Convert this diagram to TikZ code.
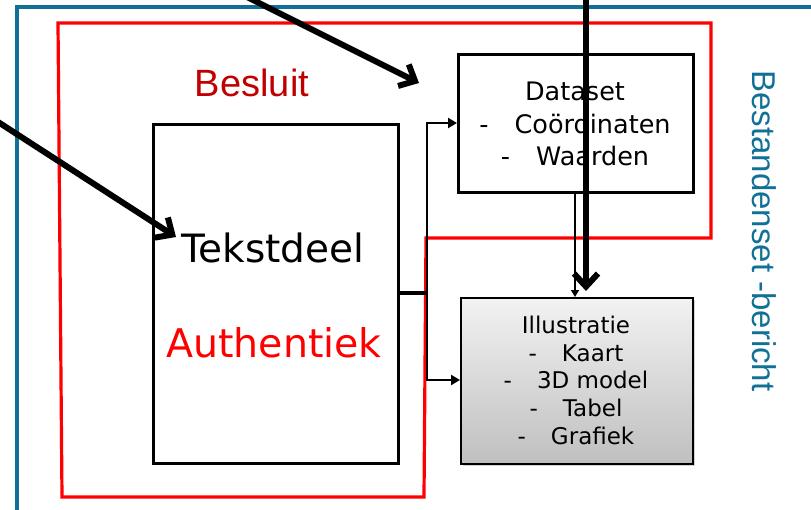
\documentclass[tikz,border=0pt]{standalone}
\usepackage{fontspec}
\setmainfont{DejaVu Sans}
\newfontfamily\arialfont{Liberation Sans}
\usetikzlibrary{arrows.meta,shadows,positioning}
\definecolor{frameblue}{RGB}{16,112,150}
\definecolor{besluitred}{RGB}{192,0,0}
\definecolor{linered}{RGB}{255,0,0}
\tikzset{
  box/.style={draw=black, line width=3.3pt, inner sep=0pt, anchor=north west},
  graybox/.style={draw=black, line width=1.8pt, inner sep=0pt, anchor=north west,
     top color=gray!10, bottom color=gray!50,
     drop shadow={shadow xshift=2pt, shadow yshift=-2pt, opacity=0.35}},
  flow/.style={draw=black, line width=2.6pt, -{Triangle[length=9pt,width=10pt]}},
  thinflow/.style={draw=black, line width=1.5pt, -{Triangle[length=7pt,width=8pt]}},
  pointer/.style={draw=black, line width=6pt, line cap=round,
     -{Straight Barb[length=13pt,width=24pt,line width=6pt]}},
  listtext/.style={align=center, inner sep=0pt, text=black},
}
\begin{document}
\begin{tikzpicture}[x=1pt,y=-1pt]
\useasboundingbox (0,0) rectangle (811,509);
\clip (0,0) rectangle (811,509);
% outer blue frame
\draw[frameblue, line width=3.2pt] (17,530) -- (17,7) -- (830,7);
\node[frameblue, rotate=-90, font=\arialfont\fontsize{33}{36}\selectfont] (bestand) at (764,231) {Bestandenset -bericht};
% red Besluit outline
\draw[linered, line width=3.2pt] (58,23) -- (711,23) -- (711,238) -- (426,238) -- (424,497) -- (62,497) -- cycle;
\node[besluitred, font=\arialfont\fontsize{38}{40}\selectfont] (besluit) at (252,83) {Besluit};
% Tekstdeel box
\node[box, minimum width=245pt, minimum height=339pt] (tekst) at (152,123) {};
\node[font=\fontsize{39}{41}\selectfont, anchor=base] (tk1) at (273,262) {Tekstdeel};
\node[linered, font=\fontsize{39.5}{41}\selectfont, anchor=base] (tk2) at (274,357) {Authentiek};
% Dataset box
\node[box, minimum width=235pt, minimum height=138pt] (data) at (457,53) {};
\node[listtext, font=\fontsize{25.5}{32.5}\selectfont, anchor=north] (datatxt) at (575,82)
  {Dataset\\-\hspace{26pt}Coördinaten\\-\hspace{26pt}Waarden};
% Illustratie box
\node[graybox, minimum width=232pt, minimum height=166pt] (illu) at (460,297) {};
\node[listtext, font=\fontsize{23}{27.6}\selectfont, anchor=north] (illutxt) at (576,316)
  {Illustratie\\-\hspace{25pt}Kaart\\-\hspace{25pt}3D model\\-\hspace{25pt}Tabel\\-\hspace{25pt}Grafiek};
% connectors
\coordinate (split) at (427,293);
\draw[draw=black, line width=3.3pt] (tekst.east |- split) -- (split);
\draw[flow] (split) -- (427,123) -- (data.west |- 0,123);
\draw[flow] (split) -- (427,380) -- (illu.west |- 0,380);
\draw[thinflow] (data.south -| 575,0) -- (illu.north -| 575,0);
% pointer arrows
\coordinate (p1s) at (247,-3);
\coordinate (p1e) at (419,83);
\coordinate (p2s) at (-5,120);
\coordinate (p2e) at (176,237);
\coordinate (p3s) at (586,-5);
\coordinate (p3e) at (586,291);
\draw[pointer] (p1s) -- (p1e);
\draw[pointer] (p2s) -- (p2e);
\draw[pointer] (p3s) -- (p3e);
\end{tikzpicture}
\end{document}
